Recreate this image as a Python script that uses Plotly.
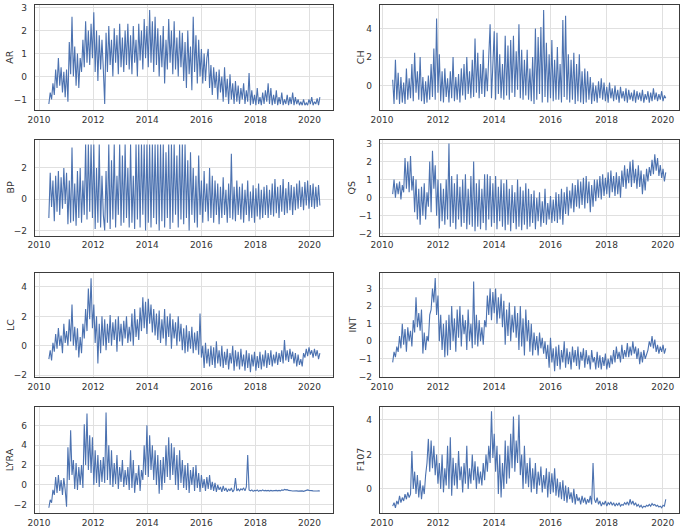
import pandas as pd
import plotly.graph_objects as go

# ---------------- data (~every 18 days) ----------------
ar = [
    -1.2, -0.7, -1.0, -0.3, -0.8, 0.3, -0.5, 0.8, -0.4, 0.4, -0.7, 0.2, -0.9, 0.3, -1.1, 1.5, 0.1, 2.6, 0.0, 1.3,
    -0.4, 1.0, -0.5, 0.8, 0.2, 1.6, 0.4, 2.4, 0.6, 2.0, 0.5, 2.3, 0.8, 2.8, 0.2, 2.0, -0.2, 1.8, 0.3, 1.6,
    0.3, -1.2, 1.9, 0.2, 2.2, 0.5, 1.6, 0.0, 2.1, 0.6, 1.8, 0.1, 2.3, 0.4, 1.7, 0.2, 2.0, 0.5, 2.3, 0.3,
    1.8, 0.1, 2.2, 0.6, 1.6, 0.0, 2.3, 0.7, 2.0, 0.3, 2.5, 0.8, 2.2, 0.4, 2.9, 0.6, 2.4, 0.2, 2.6, 0.5,
    2.1, 0.0, 1.8, 0.4, 2.2, -0.3, 1.6, 0.3, 2.5, 0.6, 2.0, 0.1, 2.4, 0.3, 1.7, 0.0, 2.0, 0.4, 1.9, -0.2,
    1.5, -0.5, 2.0, 0.1, 1.3, -0.6, 2.6, 0.2, 1.8, -0.3, 1.6, 0.0, 1.2, -0.3, 1.0, -0.2, 0.8, 1.2, -0.5, 0.5,
    -0.8, 0.4, -0.5, 0.2, -1.0, 0.3, -0.7, 0.0, -1.1, 0.4, -0.9, -0.1, -1.2, 0.1, -1.0, -0.3, -1.2, -0.2, -1.1, -0.4,
    -1.2, -0.5, -1.0, -0.3, -1.2, -0.6, -1.1, 0.15, -1.25, -0.6, -1.2, -0.8, -1.25, -0.5, -1.2, -0.9, -1.25, -0.7, -1.2, -0.6,
    -1.1, -0.3, -1.2, -0.5, -1.25, -0.8, -1.2, -0.6, -1.25, -0.9, -1.2, -0.7, -1.25, -1.0, -1.2, -0.8, -1.25, -0.9, -1.2, -0.7,
    -1.25, -0.9, -1.2, -1.0, -1.25, -1.1, -1.25, -1.0, -1.25, -1.15, -1.25, -1.0, -1.2, -0.9, -1.25, -1.1, -1.2, -0.95, -1.25, -0.9,
]
ch = [
    0.4, -1.3, 1.8, -1.0, 0.9, -1.3, 0.6, -1.2, 0.2, -1.3, 1.2, -1.0, 0.5, -0.9, 1.5, -1.1, 2.3, -0.5, 1.0, -1.0,
    2.0, -1.1, 0.6, -1.3, 0.3, -1.2, 0.7, -1.0, 1.5, -0.8, 2.6, -1.0, 4.7, -0.5, 2.2, -1.1, 1.0, -1.2, 1.2, -0.8,
    0.5, -1.2, 1.0, -0.9, 2.0, -1.1, 0.6, -1.0, 0.8, -1.2, 1.2, -0.7, 1.5, -1.0, 2.0, -0.6, 1.0, -0.9, 1.8, -0.8,
    3.3, -0.5, 2.3, -0.9, 1.5, -0.6, 2.5, -0.8, 1.2, -0.4, 2.0, 4.3, -0.9, 1.8, 3.8, -1.0, 3.7, -0.6, 2.2, -0.9,
    1.5, -1.0, 3.5, -0.7, 2.8, -1.0, 3.2, -0.5, 3.5, -0.8, 2.4, -0.3, 4.3, -0.9, 2.5, -1.0, 1.8, -0.7, 2.5, -1.0,
    1.2, -1.1, 2.0, -1.3, 4.0, -1.0, 3.4, -0.6, 4.1, -1.2, 5.3, -0.8, 3.0, -1.2, 2.2, -0.9, 3.2, -1.1, 1.8, -1.0,
    2.7, -1.0, 1.5, -1.2, 4.6, -0.8, 4.9, -1.0, 2.2, -1.2, 1.8, -1.0, 2.3, -1.3, 1.5, -1.1, 2.2, -1.2, 1.0, -1.3,
    1.2, -1.2, 1.0, -1.0, 0.6, -1.3, 0.2, -1.1, 0.0, -1.2, 0.3, -0.9, 0.5, -1.0, 0.2, -1.1, -0.1, -1.2, 0.2, -0.9,
    -0.2, -1.1, 0.0, -1.0, -0.3, -1.2, -0.1, -0.9, -0.4, -1.1, -0.2, -1.2, -0.3, -1.0, -0.5, -1.1, -0.3, -1.2, -0.4, -1.0,
    -0.5, -1.1, -0.3, -1.2, -0.6, -1.0, -0.4, -1.2, -0.5, -1.1, -0.2, -1.0, -0.5, -1.1, -0.6, -1.0, -0.4, -1.1, -0.7, -0.9,
]
bp = [
    -1.2, 1.7, -0.5, 1.2, -1.4, 1.5, -0.8, 1.8, -1.0, 1.4, -0.6, 2.0, -0.3, 1.7, -1.6, 1.2, -1.5, 3.3, -1.4, 1.0,
    -1.7, 1.8, -1.2, 2.0, -1.5, 1.2, -1.0, 3.5, -1.3, 3.5, -0.8, 3.5, -1.2, 3.5, -1.9, 2.0, -1.5, 3.5, -1.8, 1.5,
    -1.0, -2.0, 1.8, -1.5, 3.5, -1.9, 2.5, -1.3, 3.5, -1.8, 1.5, -1.0, 3.5, -1.7, 2.8, -1.5, 3.5, -1.2, 2.0, -1.8,
    3.5, -1.5, 1.5, -1.9, 3.5, -1.3, 3.5, -1.8, 3.5, -1.0, 3.5, -2.0, 3.5, -1.5, 3.5, -1.8, 3.5, -1.2, 3.5, -1.6,
    3.5, -2.0, 3.5, -1.4, 3.5, -1.8, 3.0, -1.2, 3.5, -1.9, 3.5, -1.5, 3.5, -1.0, 2.8, -1.8, 3.5, -1.3, 3.5, -1.6,
    3.5, -1.2, 2.5, -2.0, 3.0, -1.0, 2.0, -1.5, 1.5, -1.8, 2.8, -1.0, 1.2, -1.5, 1.8, -0.8, 1.0, -1.4, 2.0, -1.2,
    1.5, -1.5, 1.2, -1.0, 1.0, -1.6, 0.8, -1.2, 1.4, -1.0, 0.6, -1.5, 1.0, -1.2, 2.9, -1.3, 0.8, -1.4, 1.2, -1.0,
    0.8, -1.3, 1.0, -1.5, 0.6, -1.0, 1.2, -1.4, 0.5, -1.2, 0.9, -1.5, 0.7, -1.1, 1.0, -1.3, 0.6, -1.2, 0.8, -1.0,
    0.9, -1.2, 0.6, -1.0, 1.0, -1.1, 1.3, -0.9, 0.8, -1.2, 0.9, -0.8, 1.3, -1.0, 0.7, -0.9, 1.1, -0.7, 0.9, -1.0,
    0.8, -0.7, 1.0, -0.6, 1.2, -0.5, 0.8, -0.7, 1.1, -0.4, 1.2, -0.6, 0.9, -0.5, 1.0, -0.6, 0.8, -0.5, 0.9, -0.4,
]
qs = [
    0.2, 1.0, 0.0, 0.8, 0.2, 0.9, -0.1, 0.7, 0.3, 2.2, 0.5, 2.0, 0.3, 2.3, 0.4, 1.2, -0.8, 1.0, -1.2, 0.5,
    -1.5, 0.6, -1.0, 0.8, -1.2, 0.3, -0.5, 2.0, -0.8, 2.6, 0.5, 1.8, -1.0, 1.0, -1.7, 0.8, -1.3, 0.5, -1.5, 1.0,
    -1.2, 3.0, -1.6, 1.2, -1.4, 0.8, -1.75, 1.3, -1.2, 0.6, -1.6, 1.0, -1.4, 1.3, -1.75, 0.5, -1.5, 1.2, -1.6, 2.0,
    -1.85, 0.8, -1.6, 1.0, -1.75, 0.5, -1.4, 1.3, -1.8, 1.3, -1.2, 1.2, -1.6, 0.8, -1.4, 1.2, -1.75, 0.6, -1.3, 1.0,
    -1.6, 0.8, -1.8, 1.0, -1.5, 0.5, -1.85, 0.7, -1.4, 0.3, -1.75, 1.0, -1.6, 0.6, -1.8, 0.4, -1.5, 0.8, -1.75, 0.5,
    -1.6, 0.2, -1.4, 0.4, -1.75, 0.0, -1.3, 0.3, -1.6, -0.2, -1.4, 0.5, -1.5, -0.3, -1.2, 0.1, -1.4, -0.1, -1.3, 0.3,
    -1.4, 0.2, -1.2, 0.5, -1.5, 0.3, -0.9, 0.6, -1.0, 0.4, -0.6, 0.8, -0.8, 0.7, -0.5, 1.0, -0.6, 0.9, -0.4, 1.1,
    -0.6, 1.2, -0.3, 0.9, -0.8, 0.7, -0.5, 1.0, -0.2, 1.0, 0.0, 1.2, -0.1, 1.3, 0.1, 1.1, 0.2, 1.4, 0.0, 1.5,
    0.3, 1.2, 0.1, 1.4, 0.2, 1.2, 0.0, 1.5, 0.6, 1.8, 0.5, 1.6, 0.8, 2.0, 0.6, 2.1, 0.8, 1.6, 0.5, 1.8,
    0.6, 1.5, 0.2, 1.3, 0.4, 1.6, 0.9, 1.7, 1.2, 2.1, 1.3, 2.4, 1.5, 2.2, 1.2, 1.8, 1.1, 1.6, 0.9, 1.4,
]
lc = [
    -0.9, -0.3, -1.0, 0.2, -0.4, 0.8, -0.2, 1.2, 0.0, 0.7, -0.5, 1.5, 0.2, 1.0, 0.0, 1.8, 0.3, 2.8, 0.0, 1.3,
    -0.3, 1.2, -0.8, 0.6, -0.5, 1.5, 0.5, 2.5, 1.0, 3.9, 1.8, 4.6, 1.2, 2.8, 0.2, 2.0, -1.2, 1.5, -0.5, 2.0,
    0.0, 1.8, -0.3, 1.5, 0.2, 2.1, 0.0, 1.6, 0.4, 1.8, -0.4, 2.0, 0.3, 1.5, 0.0, 1.7, 0.5, 2.0, 0.2, 1.3,
    0.3, 2.2, 0.0, 2.5, 0.6, 1.8, 0.4, 2.6, 1.0, 3.3, 1.2, 3.0, 0.8, 3.2, 1.5, 2.8, 0.9, 2.5, 0.7, 2.2,
    0.4, 2.4, 0.2, 1.8, 0.5, 2.5, 0.0, 2.0, 0.6, 2.2, -0.2, 1.8, 0.5, 1.6, 0.0, 2.0, 0.3, 1.5, -0.3, 1.2,
    -0.5, 1.4, -0.4, 1.0, -0.2, 1.3, -0.5, 0.9, -0.3, 1.0, -0.6, 2.2, -0.8, 0.0, -1.5, 0.2, -1.2, -0.2, -1.4, 0.0,
    -1.3, -0.1, -1.5, 0.3, -1.2, -0.3, -1.4, 0.0, -1.5, -0.4, -1.3, -0.2, -1.6, -0.5, -1.2, 0.0, -1.7, -0.3, -1.4, -0.4,
    -1.6, -0.2, -1.4, -0.6, -1.7, -0.3, -1.5, -0.5, -1.8, -0.6, -1.4, -0.4, -1.7, -0.7, -1.5, -0.4, -1.6, -0.6, -1.4, -0.3,
    -1.5, -0.5, -1.3, -0.3, -1.4, -0.6, -1.2, -0.4, -1.3, -0.5, -1.1, -0.3, -1.2, 0.4, -1.0, -0.3, -1.1, -0.2, -0.9, -0.4,
    -1.2, -0.5, -1.4, -0.6, -1.3, -0.9, -1.4, -0.5, -0.8, -0.2, -0.7, -0.1, -0.6, -0.3, -0.8, -0.2, -0.7, -0.3, -0.9, -0.5,
]
intg = [
    -1.2, -0.6, -0.9, -0.3, -0.6, 0.3, -0.4, 1.0, -0.2, 0.7, -0.6, 0.8, 0.0, 0.6, -0.3, 1.2, 0.5, 2.5, 0.8, 1.6,
    0.6, 1.8, -0.7, 0.5, -0.5, 0.3, 0.0, 1.5, 1.8, 3.0, 2.2, 3.6, 1.5, 2.6, 0.0, 1.5, -0.5, 1.0, -0.9, 1.2,
    -0.8, 1.5, -0.5, 2.0, 0.0, 1.3, -0.6, 1.8, 0.2, 2.0, -0.3, 1.5, 0.4, 1.2, -0.5, 1.8, 0.0, 1.0, -0.4, 3.4,
    -0.2, 1.5, -0.3, 1.2, 0.0, 0.8, -0.2, 1.2, 0.8, 2.6, 1.5, 3.0, 1.2, 2.8, 1.6, 3.0, 1.0, 2.5, 1.3, 2.7,
    0.8, 2.3, -0.2, 1.8, 0.3, 2.2, 0.0, 1.5, 0.5, 2.0, 0.2, 1.6, -0.5, 2.0, -0.3, 1.3, -0.8, 1.8, 0.0, 1.2,
    -0.6, 1.0, -0.8, 0.5, -0.5, 0.3, -0.8, 0.5, -0.4, 0.2, -0.7, 0.0, -1.0, -0.2, -1.5, 0.2, -1.2, -0.4, -1.7, -0.3,
    -1.4, -0.2, -1.6, -0.5, -1.2, 0.0, -1.5, -0.4, -1.3, -0.6, -1.6, -0.3, -1.2, -0.5, -1.4, -0.3, -1.6, -0.6, -1.1, -0.4,
    -1.5, -0.5, -1.3, -0.8, -1.6, -0.5, -1.2, -0.9, -1.6, -0.6, -1.5, -0.8, -1.6, -0.9, -1.4, -0.7, -1.6, -1.0, -1.5, -0.8,
    -1.3, -0.5, -1.2, -0.3, -1.0, -0.6, -1.2, -0.2, -1.0, -0.5, -0.9, -0.1, -0.9, -0.3, -0.8, 0.0, -0.7, -0.3, -1.0, -0.4,
    -1.3, -0.6, -1.2, -0.5, -1.0, -0.7, -0.5, 0.0, -0.3, 0.3, -0.4, 0.1, -0.6, -0.2, -0.7, -0.3, -0.6, -0.2, -0.7, -0.4,
]
lyra = [
    -2.3, -1.5, -1.8, -0.5, -1.0, 0.8, -0.8, 1.0, -0.6, 0.5, -1.0, 0.7, -0.5, -2.2, 3.8, 0.5, 5.5, 1.0, 2.5, -0.4,
    2.2, -0.5, 1.8, 0.0, 2.0, -0.3, 6.1, 2.0, 7.2, 1.5, 5.0, 1.2, 4.8, 0.0, 3.5, 0.2, 3.0, -0.2, 2.5, 0.3,
    2.8, 0.2, 7.3, 0.5, 4.0, 0.0, 3.5, -0.2, 2.2, 0.1, 3.0, -0.4, 1.8, 0.3, 2.5, -0.2, 1.5, 0.0, 1.8, -0.5,
    3.5, -0.3, 2.5, -0.8, 1.2, 0.0, 2.0, -0.6, 1.5, 0.5, 4.0, 1.0, 6.0, 0.8, 5.0, 1.5, 4.0, 0.5, 3.5, 0.0,
    3.0, -0.9, 2.5, -0.5, 2.8, 0.2, 4.0, 0.8, 4.8, 0.5, 4.2, 1.0, 3.8, 0.0, 3.0, -0.5, 3.5, 0.2, 2.5, -0.3,
    2.0, -0.5, 2.2, -0.8, 1.5, 0.0, 1.8, -0.6, 2.0, -0.3, 1.2, -0.7, 1.0, -0.3, 0.6, -0.6, 0.8, -0.4, 1.0, -0.5,
    0.3, -0.6, 0.2, -0.7, 0.0, -0.5, -0.2, -0.7, -0.1, -0.6, -0.3, -0.7, -0.4, -0.6, -0.3, -0.7, -0.5, 0.7, -0.6, -0.4,
    -0.6, -0.4, -0.5, -0.3, -0.6, -0.2, 3.0, -0.5, -0.6, -0.5, -0.65, -0.55, -0.6, -0.5, -0.65, -0.55, -0.6, -0.5, -0.6, -0.55,
    -0.6, -0.55, -0.62, -0.55, -0.6, -0.58, -0.62, -0.55, -0.6, -0.55, -0.6, -0.5, -0.55, -0.45, -0.5, -0.48, -0.55, -0.6, -0.58, -0.62,
    -0.6, -0.62, -0.6, -0.63, -0.6, -0.62, -0.6, -0.65, -0.62, -0.6, -0.5, -0.55, -0.6, -0.58, -0.6, -0.62, -0.6, -0.62, -0.6, -0.62,
]
f107 = [
    -1.0, -0.8, -1.1, -0.7, -0.9, -0.4, -0.8, -0.5, -0.7, -0.3, -0.6, -0.2, -0.5, -0.3, 2.2, 0.0, 1.0, -0.3, 0.8, -0.5,
    0.5, -0.6, 0.2, -0.3, 0.8, 1.5, 2.9, 1.0, 2.8, 1.2, 2.5, 0.8, 2.0, 0.3, 1.5, 0.0, 2.0, -0.2, 1.2, 0.2,
    2.5, 0.0, 3.0, -0.4, 1.8, 0.2, 1.5, 0.0, 2.2, 0.5, 1.3, -0.2, 1.5, 0.3, 2.5, 0.0, 1.2, 0.3, 2.0, 0.5,
    1.6, 0.0, 1.3, 0.3, 1.0, 0.2, 1.5, 0.5, 2.0, 1.0, 2.5, 1.5, 4.5, 1.8, 3.2, 1.0, 2.5, -0.3, 2.0, -0.5,
    1.5, 0.0, 2.8, 0.3, 2.5, 0.6, 3.2, 1.2, 4.2, 1.0, 2.8, 1.5, 4.3, 0.8, 2.0, 0.0, 2.5, 0.3, 1.5, 0.1,
    1.8, -0.2, 1.2, 0.0, 1.5, -0.3, 1.0, 0.2, 1.3, -0.2, 0.8, 0.0, 1.2, -0.5, 1.0, -0.3, 0.9, -0.2, 1.2, -0.4,
    0.6, -0.5, 0.4, -0.6, 0.5, -0.7, 0.2, -0.8, 0.1, -0.6, -0.2, -0.8, 0.0, -0.9, -0.3, -0.7, -0.5, -0.9, -0.4, -0.8,
    -0.5, -0.9, -0.6, -0.8, -0.4, -0.9, 1.5, -0.6, -0.8, -0.5, -0.9, -0.7, -1.0, -0.8, -0.9, -0.7, -1.0, -0.8, -0.9, -0.75,
    -0.95, -0.8, -1.0, -0.85, -0.95, -0.8, -1.0, -0.9, -0.95, -0.8, -0.9, -0.75, -0.95, -0.6, -0.9, -0.7, -0.95, -0.8, -1.0, -0.9,
    -1.05, -0.95, -1.1, -1.0, -1.05, -0.95, -1.0, -0.9, -1.0, -0.85, -0.95, -0.9, -1.0, -0.95, -1.05, -1.0, -1.1, -0.95, -1.0, -0.6,
]

names = ["AR", "CH", "BP", "QS", "LC", "INT", "LYRA", "F107"]
series = [ar, ch, bp, qs, lc, intg, lyra, f107]
year_ticks = ["2010-01-01", "2012-01-01", "2014-01-01", "2016-01-01", "2018-01-01", "2020-01-01"]
ytick_sets = [[-1, 0, 1, 2, 3], [0, 2, 4], [-2, 0, 2], [-2, -1, 0, 1, 2, 3],
              [-2, 0, 2, 4], [-2, -1, 0, 1, 2, 3], [-2, 0, 2, 4, 6], [0, 2, 4]]

# ---------------- layout / style ----------------
W, H = 685, 528
yranges = [[-1.46, 3.1], [-1.72, 5.63], [-2.32, 3.82], [-2.09, 3.22],
           [-2.12, 4.95], [-2.03, 3.88], [-2.8, 7.85], [-1.38, 4.75]]
col_px = [(35, 333), (380, 679.3)]
row_px = [(5.3, 110), (139.5, 235.5), (273, 377), (407, 512.7)]
col_xrange = [["2009-11-07", "2020-11-13"], ["2009-12-06", "2020-08-04"]]
col_dates = [("2010-05-13", "2020-05-20"), ("2010-05-20", "2020-02-10")]
ylabel_x = [10, 360.5, 10, 351, 10, 351.5, 9.5, 360.5]

LINE = "#4c72b0"
GRID = "#e0e0e0"
FRAME = "#3c3c3c"
TXT = "#333333"
FONT = "DejaVu Sans"

fig = go.Figure()
annotations = []
for i, (name, vals) in enumerate(zip(names, series)):
    r, c = divmod(i, 2)
    n = "" if i == 0 else str(i + 1)
    start, end = col_dates[c]
    dates = pd.date_range(start, end, periods=len(vals))
    fig.add_trace(go.Scatter(x=dates, y=vals, mode="lines",
                             line=dict(color=LINE, width=1.1),
                             xaxis="x" + n, yaxis="y" + n, showlegend=False))
    x0, x1 = col_px[c]
    t0, t1 = row_px[r]
    fig.layout["xaxis" + n] = dict(
        domain=[x0 / W, x1 / W], anchor="y" + n, type="date",
        range=col_xrange[c], tickvals=year_ticks, tickformat="%Y",
        showgrid=True, gridcolor=GRID, gridwidth=1, zeroline=False,
        showline=True, mirror=True, linecolor=FRAME, linewidth=1.3,
        ticks="outside", ticklen=1, tickcolor="rgba(0,0,0,0)",
        tickfont=dict(family=FONT, size=9, color=TXT))
    fig.layout["yaxis" + n] = dict(
        domain=[1 - t1 / H, 1 - t0 / H], anchor="x" + n,
        range=yranges[i], tickvals=ytick_sets[i],
        showgrid=True, gridcolor=GRID, gridwidth=1, zeroline=False,
        showline=True, mirror=True, linecolor=FRAME, linewidth=1.3,
        ticks="outside", ticklen=5, tickcolor="rgba(0,0,0,0)",
        tickfont=dict(family=FONT, size=9, color=TXT))
    annotations.append(dict(
        text=name, xref="paper", yref="paper",
        x=ylabel_x[i] / W, y=1 - (t0 + t1) / 2 / H,
        xanchor="center", yanchor="middle", textangle=-90, showarrow=False,
        font=dict(family=FONT, size=9.5, color=TXT)))

fig.update_layout(width=W, height=H, margin=dict(l=0, r=0, t=0, b=0, autoexpand=False),
                  paper_bgcolor="white", plot_bgcolor="white",
                  annotations=annotations)
fig.write_html("out.html", config={"displayModeBar": False},
               post_script="document.body.style.margin='0';document.body.style.overflow='hidden';")
